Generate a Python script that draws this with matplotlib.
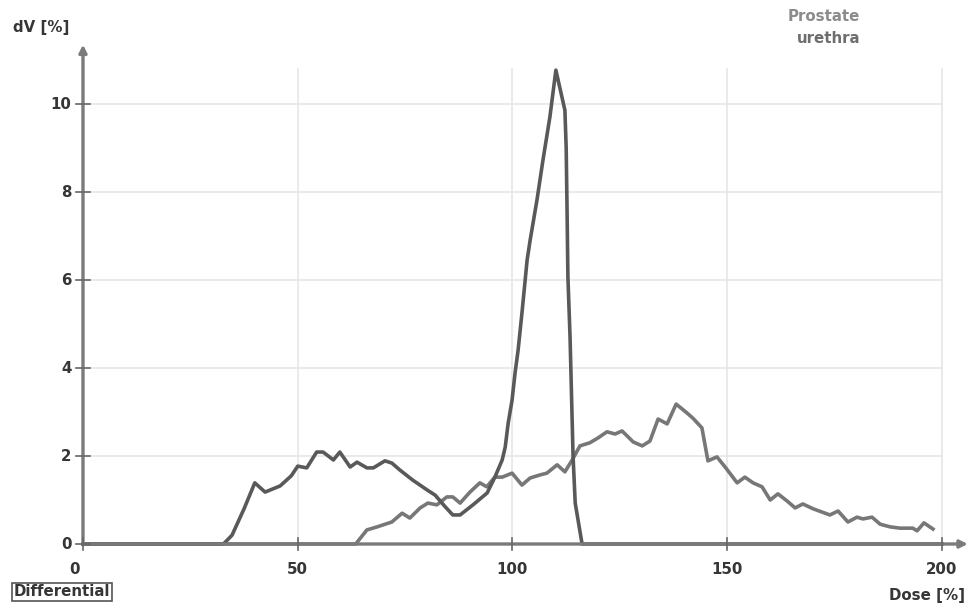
import matplotlib.pyplot as plt

# dose [%] / differential volume [%]
prostate_dose = [0, 32.7, 34.7, 37.5, 40.0, 42.4, 45.9, 48.5, 50.0, 52.1, 54.4, 55.9, 58.3,
                 59.8, 62.2, 63.8, 66.1, 67.6, 70.3, 71.9, 73.8, 76.8, 80.1, 82.0, 84.3,
                 86.1, 87.8, 90.8, 94.1, 95.9, 97.6, 98.3, 99.0, 99.9, 100.6, 101.3, 102.2,
                 103.4, 104.1, 105.7, 107.1, 108.7, 110.1, 112.2, 112.5, 112.7, 112.9, 113.4,
                 114.1, 114.6, 116.2, 200]
prostate_dv = [0, 0, 0.2, 0.8, 1.39, 1.18, 1.32, 1.55, 1.77, 1.73, 2.09, 2.09, 1.91,
               2.09, 1.75, 1.86, 1.73, 1.73, 1.89, 1.84, 1.68, 1.45, 1.23, 1.11, 0.85,
               0.66, 0.66, 0.89, 1.16, 1.52, 1.91, 2.2, 2.75, 3.27, 3.89, 4.4, 5.25,
               6.45, 6.9, 7.82, 8.73, 9.7, 10.77, 9.86, 9.0, 7.6, 6.07, 4.7,
               2.0, 0.93, 0.0, 0]

urethra_dose = [0, 63.5, 66.1, 68.5, 71.9, 74.3, 76.1, 78.5, 80.3, 82.4, 84.7, 86.1, 87.8,
                90.1, 92.4, 94.0, 95.9, 97.6, 99.9, 102.2, 104.1, 106.4, 108.0, 110.4,
                112.2, 113.9, 115.7, 118.0, 119.9, 122.0, 123.9, 125.5, 128.1, 130.2,
                132.0, 133.9, 136.0, 138.1, 140.6, 142.0, 144.1, 145.5, 147.6, 149.5,
                152.3, 154.1, 156.0, 158.1, 160.0, 161.8, 163.9, 165.8, 167.6, 170.0,
                173.9, 175.8, 178.1, 180.2, 181.6, 183.7, 185.6, 187.9, 190.2, 193.2,
                194.2, 195.8, 197.9]
urethra_dv = [0, 0, 0.32, 0.39, 0.5, 0.7, 0.59, 0.82, 0.93, 0.89, 1.07, 1.07, 0.93,
              1.18, 1.39, 1.3, 1.52, 1.52, 1.61, 1.34, 1.5, 1.57, 1.61, 1.8,
              1.64, 1.91, 2.23, 2.3, 2.41, 2.55, 2.5, 2.57, 2.32, 2.23,
              2.34, 2.84, 2.73, 3.18, 2.98, 2.86, 2.64, 1.89, 1.98, 1.75,
              1.39, 1.52, 1.39, 1.3, 1.0, 1.14, 0.98, 0.82, 0.91, 0.8,
              0.66, 0.75, 0.5, 0.61, 0.57, 0.61, 0.45, 0.39, 0.36, 0.36,
              0.3, 0.48, 0.34]

x_ticks = [0, 50, 100, 150, 200]
y_ticks = [0, 2, 4, 6, 8, 10]

fig = plt.figure(figsize=(9.68, 6.08), dpi=100)
ax = fig.add_axes([0, 0, 1, 1])
# limits chosen so that the origin sits at the same pixel as in the reference
ax.set_xlim(-19.32, 206.05)
ax.set_ylim(-1.4545, 12.364)
ax.axis("off")

grid_c = "#e6e6e6"
for x in x_ticks[1:]:
    ax.plot([x, x], [0, 10.8], color=grid_c, lw=1.2, zorder=1)
for y in y_ticks[1:]:
    ax.plot([0, 200], [y, y], color=grid_c, lw=1.2, zorder=1)

ax.plot(urethra_dose, urethra_dv, color="#777777", lw=2.6, zorder=3)
ax.plot(prostate_dose, prostate_dv, color="#595959", lw=2.6, zorder=4)

axis_c = "#7a7a7a"
ax.annotate("", xy=(206.0, 0), xytext=(0, 0),
            arrowprops=dict(arrowstyle="-|>", color=axis_c, lw=2.4,
                            mutation_scale=11, shrinkA=0, shrinkB=0), zorder=5)
ax.annotate("", xy=(0, 11.35), xytext=(0, 0),
            arrowprops=dict(arrowstyle="-|>", color=axis_c, lw=2.4,
                            mutation_scale=11, shrinkA=0, shrinkB=0), zorder=5)

txt = dict(fontsize=10.8, fontweight="bold", color="#363636", family="DejaVu Sans")
for x in x_ticks:
    ax.plot([x, x], [-0.14, 0.14], color="#666666", lw=1.2, zorder=6)
    ax.text(x - 1.9 if x == 0 else x, -0.58, str(x), ha="center", va="center", **txt)
for y in y_ticks:
    ax.plot([-1.6, 1.6], [y, y], color="#666666", lw=1.2, zorder=6)
    ax.text(-2.7, y, str(y), ha="right", va="center", **txt)

ax.text(-16.3, 11.75, "dV [%]", ha="left", va="center", **txt)
ax.text(205.4, -1.16, "Dose [%]", ha="right", va="center", **txt)
ax.text(-16.2, -1.09, "Differential", ha="left", va="center",
        bbox=dict(boxstyle="square,pad=0.12", fc="white", ec="#555555", lw=1.2), **txt)
ax.text(180.9, 11.98, "Prostate", ha="right", va="center",
        fontsize=10.8, fontweight="bold", color="#8c8c8c", family="DejaVu Sans")
ax.text(181.1, 11.48, "urethra", ha="right", va="center",
        fontsize=10.8, fontweight="bold", color="#6e6e6e", family="DejaVu Sans")

fig.savefig("out.png", dpi=100)
